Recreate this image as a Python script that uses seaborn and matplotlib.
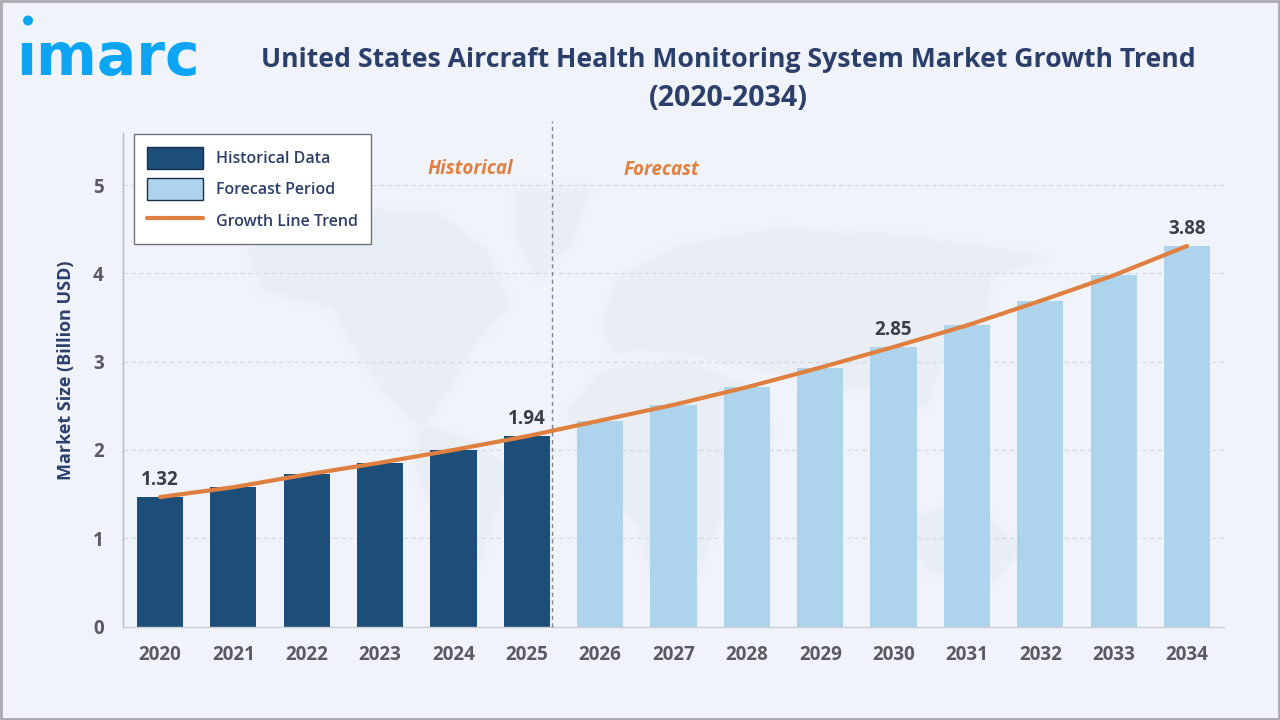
import numpy as np
import pandas as pd
import matplotlib
matplotlib.use("Agg")
import matplotlib.pyplot as plt
from matplotlib.colors import LinearSegmentedColormap
from matplotlib.lines import Line2D
from matplotlib.patches import Patch, Rectangle
from matplotlib.path import Path
import seaborn as sns

# Market data
years = [str(y) for y in range(2020, 2035)]
market_size = [1.32, 1.42, 1.55, 1.67, 1.80, 1.94, 2.10, 2.26, 2.44, 2.64, 2.85, 3.07, 3.32, 3.58, 3.88]
periods = ["Historical Data"] * 6 + ["Forecast Period"] * 9
labelled_years = ["2020", "2025", "2030", "2034"]
tick_labels = ["0", "1", "2", "3", "4", "5"]
tick_step = 0.9

NAVY = "#1D4E79"
SKY = "#AED3ED"
ORANGE = "#DF8040"
INK = "#2B3F6B"
GREY = "#595B60"
BG = "#F0F3F9"
MAP = "#E9EDF4"
FONT = "Open Sans"

df = pd.DataFrame({"Year": years, "Size": market_size, "Period": periods})

sns.set_theme(style="white")
plt.rcParams["font.family"] = [FONT, "DejaVu Sans"]

W, H = 1280, 720
fig = plt.figure(figsize=(W / 100, H / 100), dpi=100, facecolor=BG)

# Full-figure pixel layer for the frame and the map backdrop
bg = fig.add_axes([0, 0, 1, 1], zorder=0)
bg.axis("off")

continents = [
    # North America and Central America
    [(246, 247), (290, 222), (372, 210), (440, 215), (487, 250), (510, 305), (470, 350), (445, 395),
     (425, 425), (407, 417), (366, 367), (332, 307), (262, 290)],
    # Greenland
    [(517, 190), (590, 188), (572, 240), (537, 280), (518, 240)],
    # South America
    [(420, 425), (470, 440), (512, 470), (490, 530), (462, 610), (446, 600), (436, 520), (415, 465)],
    # Eurasia
    [(602, 323), (619, 277), (676, 247), (774, 230), (900, 235), (1050, 257), (992, 277), (985, 320),
     (946, 350), (925, 410), (885, 380), (830, 395), (790, 375), (735, 365), (670, 350), (612, 352)],
    # Africa
    [(567, 410), (600, 372), (680, 358), (745, 385), (775, 430), (745, 485), (715, 530), (690, 590),
     (655, 600), (640, 530), (590, 470)],
    # Australia
    [(905, 520), (975, 500), (1020, 550), (985, 590), (925, 570)],
]


def box_blur(mask, radius, passes=3):
    """Soften a mask by repeated running means along both image axes."""
    kernel = np.ones(2 * radius + 1) / (2 * radius + 1)
    out = mask
    for _ in range(passes):
        out = np.apply_along_axis(np.convolve, 0, out, kernel, mode="same")
        out = np.apply_along_axis(np.convolve, 1, out, kernel, mode="same")
    return out


xx, yy = np.meshgrid(np.arange(W) + 0.5, np.arange(H) + 0.5)
pixels = np.column_stack([xx.ravel(), yy.ravel()])
land = np.zeros(H * W)
for shape in continents:
    land = np.maximum(land, Path(shape + [shape[0]]).contains_points(pixels).astype(float))
land = box_blur(land.reshape(H, W), 3)
wash = LinearSegmentedColormap.from_list("wash", [BG, MAP])
bg.imshow(land, cmap=wash, vmin=0, vmax=1, extent=(0, W, H, 0), aspect="auto", interpolation="bilinear")
bg.set_xlim(0, W)
bg.set_ylim(H, 0)

bg.add_patch(Rectangle((1, 1), W - 2, H - 2, fill=False, edgecolor="#A9A9AE", linewidth=2))

# Brand mark
bg.add_patch(plt.Circle((28, 20.5), 5, color="#0BA5F4", ec="none"))
bg.text(16, 75, "\u0131marc", fontsize=42, fontweight="bold", color="#0BA5F4",
        family="DejaVu Sans", ha="left", va="baseline")

# Main chart
ax = fig.add_axes([123.3 / W, 1 - 626.5 / H, 1100.4 / W, 493.5 / H], zorder=1)
ax.patch.set_alpha(0)

sns.barplot(data=df, x="Year", y="Size", hue="Period", dodge=False, width=0.63,
            palette={"Historical Data": NAVY, "Forecast Period": SKY},
            saturation=1, legend=False, linewidth=0, ax=ax, zorder=2)
sns.lineplot(x=np.arange(len(years)), y=market_size, color=ORANGE, linewidth=3,
             ax=ax, zorder=3)

ax.set_xlim(-0.5, 14.5)
ax.set_ylim(0, 493.5 / 98.07)
ax.set_yticks(np.arange(len(tick_labels)) * tick_step, tick_labels)
ax.grid(axis="y", color="#D3D7DE", linestyle=(0, (4, 3)), linewidth=0.8, zorder=1)
ax.set_axisbelow(True)
ax.tick_params(axis="both", length=0, labelsize=13.5, labelcolor=GREY)
ax.tick_params(axis="x", pad=13)
ax.tick_params(axis="y", pad=14)
for lab in ax.get_xticklabels() + ax.get_yticklabels():
    lab.set_fontweight("bold")

for side in ("top", "right"):
    ax.spines[side].set_visible(False)
ax.spines["left"].set_color("#B5B7BC")
ax.spines["bottom"].set_color("#CBCED4")
ax.spines["left"].set_linewidth(1)
ax.spines["bottom"].set_linewidth(1)

ax.set_xlabel("")
ax.set_ylabel("")
fig.text(65.5 / W, 1 - 370 / H, "Market Size (Billion USD)", rotation=90, ha="center", va="center",
         fontsize=13, fontweight="bold", color=INK)

# Divider between the two periods
ax.plot([5.35, 5.35], [0, 5.155], color="#7F838A", linewidth=1, linestyle=(0, (3, 2.5)),
        clip_on=False, zorder=4)

ax.text(4.23, 4.66, "Historical", color=ORANGE, fontsize=13.5, fontweight="bold", style="italic",
        ha="center", va="center")
ax.text(6.84, 4.65, "Forecast", color=ORANGE, fontsize=13.5, fontweight="bold", style="italic",
        ha="center", va="center")

# Value labels on selected years
for year in labelled_years:
    i = years.index(year)
    ax.text(i, market_size[i] + 0.07, f"{market_size[i]:.2f}",
            ha="center", va="bottom", fontsize=13.5, fontweight="bold", color="#3A3E48", zorder=5)

# Legend
handles = [
    Patch(facecolor=NAVY, edgecolor="#14304F", linewidth=1, label="Historical Data"),
    Patch(facecolor=SKY, edgecolor="#14304F", linewidth=1, label="Forecast Period"),
    Line2D([0], [0], color=ORANGE, linewidth=3, label="Growth Line Trend"),
]
leg = ax.legend(handles=handles, loc="upper left", bbox_to_anchor=(10.7 / 1100.4, 1 - 1 / 493.5),
                frameon=True, fancybox=False, framealpha=1, facecolor="white", edgecolor="#6F737B",
                fontsize=11.5, handlelength=3.55, handleheight=1.72, handletextpad=0.8,
                labelspacing=0.6, borderpad=0.8, borderaxespad=0)
leg.get_frame().set_linewidth(1)
leg.set_zorder(6)
for t in leg.get_texts():
    t.set_color(INK)
    t.set_fontweight("semibold")

# Title
fig.text(728.5 / W, 1 - 60 / H, "United States Aircraft Health Monitoring System Market Growth Trend",
         ha="center", va="center", fontsize=19.15, fontweight="bold", color=INK)
fig.text(728.5 / W, 1 - 98 / H, "(2020-2034)", ha="center", va="center", fontsize=20.5,
         fontweight="bold", color=INK)

fig.savefig("out.png", dpi=100, facecolor=BG)
